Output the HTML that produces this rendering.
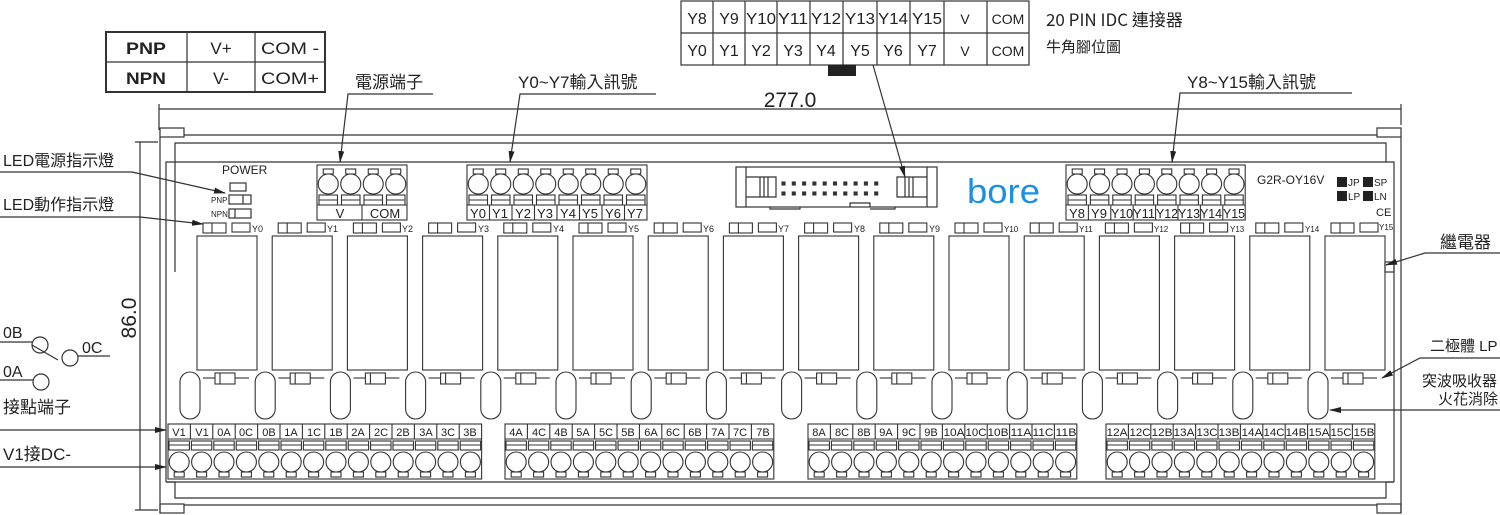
<!DOCTYPE html>
<html><head><meta charset="utf-8"><style>
html,body{margin:0;padding:0;background:#fff;width:1500px;height:515px;overflow:hidden}
svg{display:block}
text{font-family:"Liberation Sans","Noto Sans CJK TC",sans-serif;fill:#222}
.cj{font-family:"Noto Sans CJK TC","Liberation Sans",sans-serif}
</style></head><body>
<svg id="s" width="1500" height="515" viewBox="0 0 1500 515" xmlns="http://www.w3.org/2000/svg">
<defs><marker id="ar" markerWidth="12" markerHeight="8" refX="11" refY="4" orient="auto" markerUnits="userSpaceOnUse"><path d="M0,1 L12,4 L0,7 Z" fill="#222"/></marker></defs>
<g id="g" fill="none" stroke="#333" stroke-width="1.2">
<line x1="159" y1="109" x2="1401" y2="109"/>
<line x1="159" y1="104" x2="159" y2="130"/>
<line x1="1401" y1="104" x2="1401" y2="125"/>
<line x1="140" y1="142" x2="140" y2="510"/>
<line x1="135" y1="142" x2="158" y2="142"/>
<line x1="135" y1="510" x2="158" y2="510"/>
<rect x="160" y="128" width="24" height="9"/>
<rect x="1377" y="128" width="24" height="9"/>
<line x1="160" y1="137" x2="160" y2="513"/>
<line x1="1401" y1="137" x2="1401" y2="513"/>
<line x1="184" y1="135" x2="1377" y2="135"/>
<polyline points="175,272 175,143 1386,143 1386,162"/>
<polyline points="166,482 166,162 1394,162 1394,482"/>
<rect x="1385" y="262" width="9" height="10"/>
<polyline points="166,482 175,482 175,498 1386,498 1386,482 1394,482"/>
<line x1="166" y1="482" x2="1394" y2="482"/>
<line x1="184" y1="505" x2="1377" y2="505"/>
<rect x="160" y="504" width="24" height="9"/>
<rect x="1377" y="504" width="24" height="9"/>
<rect x="681" y="1" width="348" height="64"/>
<line x1="681" y1="33" x2="1029" y2="33"/>
<path d="M713,1V65M745,1V65M777,1V65M810,1V65M843,1V65M877,1V65M910,1V65M944,1V65M987,1V65"/>
<rect x="106" y="32" width="219" height="60" stroke-width="2"/>
<line x1="106" y1="62" x2="325" y2="62"/>
<line x1="187" y1="32" x2="187" y2="92"/>
<line x1="255" y1="32" x2="255" y2="92"/>
<rect x="736" y="167" width="201" height="40"/>
<path d="M746,167V207M927,167V207M746,177H776V197H746M927,177H897V197H927M760,177V197M764,177V197M768,177V197M905,177V197M909,177V197M913,177V197"/>
<path d="M770,207v2h30v-2M850,207v-4h20v4M895,207v2h-25"/>
<polyline points="433,94 348,94 340,162" marker-end="url(#ar)"/>
<polyline points="656,94 520,94 510,162" marker-end="url(#ar)"/>
<polyline points="1352,93 1180,93 1172,162" marker-end="url(#ar)"/>
<line x1="873" y1="65" x2="905" y2="177" marker-end="url(#ar)"/>
<polyline points="0,172 132,172 225,193" marker-end="url(#ar)"/>
<polyline points="0,217 140,217 203,224" marker-end="url(#ar)"/>
<line x1="0" y1="430" x2="166" y2="430" marker-end="url(#ar)"/>
<line x1="0" y1="467" x2="166" y2="467" marker-end="url(#ar)"/>
<polyline points="1500,253 1425,253 1386,265" marker-end="url(#ar)"/>
<polyline points="1500,358 1420,358 1382,378" marker-end="url(#ar)"/>
<line x1="1500" y1="410" x2="1330" y2="410" marker-end="url(#ar)"/>
<line x1="0" y1="342" x2="32" y2="342"/><circle cx="40" cy="345" r="8"/>
<line x1="32" y1="345" x2="58" y2="360"/><circle cx="70" cy="358" r="8"/><line x1="78" y1="356" x2="110" y2="356"/>
<line x1="0" y1="380" x2="33" y2="380"/><circle cx="41" cy="382" r="8"/>
<rect x="230" y="183" width="16" height="8"/>
<rect x="229" y="195" width="22" height="9"/><line x1="243" y1="195" x2="243" y2="204"/>
<rect x="229" y="209" width="22" height="9"/><line x1="235" y1="209" x2="235" y2="218"/>
</g>
<g id="dyn" fill="none" stroke="#333" stroke-width="1.1"></g>
<rect x="828" y="65" width="28" height="11" fill="#222"/>
<g fill="#222"><rect x="1337" y="177" width="10" height="10"/><rect x="1363" y="177" width="10" height="10"/><rect x="1337" y="191" width="10" height="10"/><rect x="1363" y="191" width="10" height="10"/></g>
<text x="790" y="107" font-size="21" text-anchor="middle">277.0</text>
<text transform="translate(136,318) rotate(-90)" font-size="21" text-anchor="middle">86.0</text>
<g font-size="16" text-anchor="middle">
<text x="697" y="24">Y8</text><text x="729" y="24">Y9</text><text x="761" y="24" textLength="30" lengthAdjust="spacingAndGlyphs">Y10</text><text x="793" y="24" textLength="30" lengthAdjust="spacingAndGlyphs">Y11</text><text x="826" y="24" textLength="30" lengthAdjust="spacingAndGlyphs">Y12</text><text x="860" y="24" textLength="30" lengthAdjust="spacingAndGlyphs">Y13</text><text x="893" y="24" textLength="30" lengthAdjust="spacingAndGlyphs">Y14</text><text x="927" y="24" textLength="30" lengthAdjust="spacingAndGlyphs">Y15</text><text x="965" y="24" font-size="14">V</text><text x="1008" y="24" font-size="14">COM</text>
<text x="697" y="56">Y0</text><text x="729" y="56">Y1</text><text x="761" y="56">Y2</text><text x="793" y="56">Y3</text><text x="826" y="56">Y4</text><text x="860" y="56">Y5</text><text x="893" y="56">Y6</text><text x="927" y="56">Y7</text><text x="965" y="56" font-size="14">V</text><text x="1008" y="56" font-size="14">COM</text>
</g>
<text x="1046" y="26" font-size="17" class="cj">20 PIN IDC 連接器</text>
<text x="1046" y="52" font-size="15" class="cj">牛角腳位圖</text>
<g font-size="17" text-anchor="middle">
<text x="146" y="54" font-weight="bold" textLength="40" lengthAdjust="spacingAndGlyphs">PNP</text><text x="221" y="54">V+</text><text x="290" y="54" textLength="58" lengthAdjust="spacingAndGlyphs">COM -</text>
<text x="146" y="84" font-weight="bold" textLength="40" lengthAdjust="spacingAndGlyphs">NPN</text><text x="221" y="84">V-</text><text x="290" y="84" textLength="58" lengthAdjust="spacingAndGlyphs">COM+</text>
</g>
<g font-size="17" class="cj">
<text x="355" y="88">電源端子</text>
<text x="518" y="88">Y0~Y7輸入訊號</text>
<text x="1187" y="88">Y8~Y15輸入訊號</text>
<text x="3" y="166" font-size="16">LED電源指示燈</text>
<text x="3" y="210" font-size="16">LED動作指示燈</text>
<text x="3" y="413">接點端子</text>
<text x="3" y="460">V1接DC-</text>
<text x="1440" y="248">繼電器</text>
<text x="1430" y="351" font-size="15">二極體 LP</text>
<text x="1422" y="386" font-size="15">突波吸收器</text>
<text x="1438" y="404" font-size="15">火花消除</text>
</g>
<g font-size="16"><text x="3" y="338">0B</text><text x="82" y="353">0C</text><text x="3" y="377">0A</text></g>
<text x="222" y="174" font-size="12">POWER</text>
<text x="211" y="203" font-size="8">PNP</text>
<text x="211" y="217" font-size="8">NPN</text>
<text x="967" y="203" font-size="34" fill="#1a8fe3" style="fill:#1a8fe3" textLength="73" lengthAdjust="spacingAndGlyphs">bore</text>
<text x="1257" y="184" font-size="12">G2R-OY16V</text>
<g font-size="10"><text x="1348" y="186">JP</text><text x="1374" y="186">SP</text><text x="1348" y="200">LP</text><text x="1374" y="200">LN</text><text x="1376" y="216" font-size="11">CE</text></g>
<g font-size="13" text-anchor="middle">
<text x="340" y="218">V</text><text x="385" y="218">COM</text>
<text x="478" y="218">Y0</text><text x="500" y="218">Y1</text><text x="523" y="218">Y2</text><text x="545" y="218">Y3</text><text x="568" y="218">Y4</text><text x="590" y="218">Y5</text><text x="613" y="218">Y6</text><text x="635" y="218">Y7</text>
</g>
<g font-size="13" text-anchor="middle">
<text x="1077" y="218">Y8</text><text x="1099" y="218">Y9</text><text x="1122" y="218" textLength="22" lengthAdjust="spacingAndGlyphs">Y10</text><text x="1144" y="218" textLength="22" lengthAdjust="spacingAndGlyphs">Y11</text><text x="1167" y="218" textLength="22" lengthAdjust="spacingAndGlyphs">Y12</text><text x="1189" y="218" textLength="22" lengthAdjust="spacingAndGlyphs">Y13</text><text x="1211" y="218" textLength="22" lengthAdjust="spacingAndGlyphs">Y14</text><text x="1234" y="218" textLength="22" lengthAdjust="spacingAndGlyphs">Y15</text>
</g>
<g font-size="9">
<text x="252" y="232">Y0</text><text x="327" y="232">Y1</text><text x="402" y="232">Y2</text><text x="478" y="232">Y3</text><text x="553" y="232">Y4</text><text x="628" y="232">Y5</text><text x="703" y="232">Y6</text><text x="778" y="232">Y7</text><text x="854" y="232">Y8</text><text x="929" y="232">Y9</text><text x="1004" y="232" font-size="8">Y10</text><text x="1079" y="232" font-size="8">Y11</text><text x="1154" y="232" font-size="8">Y12</text><text x="1230" y="232" font-size="8">Y13</text><text x="1305" y="232" font-size="8">Y14</text><text x="1379" y="230" font-size="8">Y15</text>
</g>
<g font-size="11" text-anchor="middle">
<text x="179" y="436">V1</text><text x="202" y="436">V1</text><text x="224" y="436">0A</text><text x="246" y="436">0C</text><text x="269" y="436">0B</text><text x="291" y="436">1A</text><text x="314" y="436">1C</text><text x="336" y="436">1B</text><text x="358" y="436">2A</text><text x="381" y="436">2C</text><text x="403" y="436">2B</text><text x="426" y="436">3A</text><text x="448" y="436">3C</text><text x="470" y="436">3B</text>
<text x="516" y="436">4A</text><text x="539" y="436">4C</text><text x="561" y="436">4B</text><text x="583" y="436">5A</text><text x="606" y="436">5C</text><text x="628" y="436">5B</text><text x="651" y="436">6A</text><text x="673" y="436">6C</text><text x="695" y="436">6B</text><text x="718" y="436">7A</text><text x="740" y="436">7C</text><text x="763" y="436">7B</text>
<text x="819" y="436">8A</text><text x="842" y="436">8C</text><text x="864" y="436">8B</text><text x="886" y="436">9A</text><text x="909" y="436">9C</text><text x="931" y="436">9B</text><text x="954" y="436" textLength="21" lengthAdjust="spacingAndGlyphs">10A</text><text x="976" y="436" textLength="21" lengthAdjust="spacingAndGlyphs">10C</text><text x="998" y="436" textLength="21" lengthAdjust="spacingAndGlyphs">10B</text><text x="1021" y="436" textLength="21" lengthAdjust="spacingAndGlyphs">11A</text><text x="1043" y="436" textLength="21" lengthAdjust="spacingAndGlyphs">11C</text><text x="1066" y="436" textLength="21" lengthAdjust="spacingAndGlyphs">11B</text>
<text x="1117" y="436" textLength="21" lengthAdjust="spacingAndGlyphs">12A</text><text x="1140" y="436" textLength="21" lengthAdjust="spacingAndGlyphs">12C</text><text x="1162" y="436" textLength="21" lengthAdjust="spacingAndGlyphs">12B</text><text x="1184" y="436" textLength="21" lengthAdjust="spacingAndGlyphs">13A</text><text x="1207" y="436" textLength="21" lengthAdjust="spacingAndGlyphs">13C</text><text x="1229" y="436" textLength="21" lengthAdjust="spacingAndGlyphs">13B</text><text x="1252" y="436" textLength="21" lengthAdjust="spacingAndGlyphs">14A</text><text x="1274" y="436" textLength="21" lengthAdjust="spacingAndGlyphs">14C</text><text x="1296" y="436" textLength="21" lengthAdjust="spacingAndGlyphs">14B</text><text x="1319" y="436" textLength="21" lengthAdjust="spacingAndGlyphs">15A</text><text x="1341" y="436" textLength="21" lengthAdjust="spacingAndGlyphs">15C</text><text x="1364" y="436" textLength="21" lengthAdjust="spacingAndGlyphs">15B</text>
</g>
</svg>
<script>
(function(){
var g=document.getElementById('dyn'),h='';
function R(x,y,w,hh,ex){h+='<rect x="'+x+'" y="'+y+'" width="'+w+'" height="'+hh+'" '+(ex||'')+'/>';}
function L(a,b,c,d){h+='<line x1="'+a+'" y1="'+b+'" x2="'+c+'" y2="'+d+'"/>';}
var p=75.2;
for(var i=0;i<16;i++){
 var x=197+i*p;
 R(x,236,60,134);
 R(x+6,223,23,10);L(x+15,223,x+15,233);
 R(x+35,223,18,9);
 var ox=180+i*p;R(ox,372,20,47,'rx="10"');
 var dx=ox+23;L(dx,378,dx+12,378);R(dx+12,373,20,11);L(dx+17,373,dx+17,384);L(dx+32,378,dx+46,378);
}
function top(x0,n,w,y0){
 R(x0,y0,n*w,55);
 for(var k=0;k<n;k++){var cx=x0+w/2+k*w;
  h+='<circle cx="'+cx+'" cy="'+(y0+19)+'" r="10"/>';
  R(cx-5,y0+4,10,5);
  R(x0+k*w+2,y0+30,w-4,10);L(x0+k*w+2,y0+35,x0+k*w+w-2,y0+35);
 }
 L(x0,y0+40,x0+n*w,y0+40);
}
top(317,4,22.5,165);L(362,205,362,220);
top(467,8,22.5,165);
for(var k=1;k<8;k++)L(467+k*22.5,205,467+k*22.5,220);
top(1066,8,22.4,165);
for(var k=1;k<8;k++)L(1066+k*22.4,205,1066+k*22.4,220);
for(var k=0;k<10;k++){R(782+k*10.3,182,3,3,'fill="#333"');R(782+k*10.3,192,3,3,'fill="#333"');}
function bot(x0,n){var w=22.4;R(x0,424,n*w,55);
 for(var k=0;k<n;k++){var xx=x0+k*w,cx=xx+w/2;
  if(k>0)L(xx,424,xx,439);
  R(xx+1,441,w-2,9);L(xx+1,445,xx+w-1,445);
  h+='<circle cx="'+cx+'" cy="'+462+'" r="10"/>';
  R(cx-5,472,10,5);
 }
 L(x0,439,x0+n*w,439);
}
bot(168,14);bot(505,12);bot(808,12);bot(1106,12);
g.innerHTML=h;
})();
</script>
</body></html>
